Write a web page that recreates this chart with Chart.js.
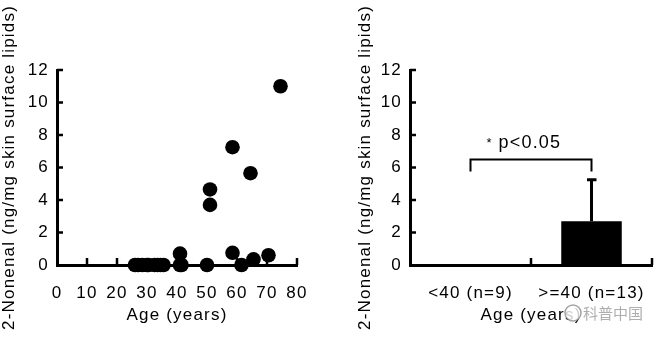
<!DOCTYPE html>
<html lang="en">
<head>
<meta charset="UTF-8" />
<title>2-Nonenal and age</title>
<script src="https://cdn.jsdelivr.net/npm/chart.js"></script>
<style>
  body { margin: 0; background: #fff; }
  .panel { position: absolute; top: 0; width: 330px; height: 338px; }
  #left { left: 0; }
  #right { left: 330px; }
</style>
</head>
<body>
<div class="panel" id="left"><canvas id="scatterChart" width="330" height="338"></canvas></div>
<div class="panel" id="right"><canvas id="barChart" width="330" height="338"></canvas></div>

<script>
  // individual subjects
  const ages    = [26, 27, 28.5, 30, 30.5, 32.5, 33.5, 34.5, 35.5, 41, 41, 41.5, 50, 51, 51, 58.5, 58.5, 61.5, 64.5, 65.5, 70.5, 74.5];
  const nonenal = [0, 0, 0, 0, 0, 0, 0, 0, 0, 0.7, 0, 0, 0, 4.65, 3.7, 7.25, 0.75, 0, 5.65, 0.35, 0.6, 11];

  // group summary
  const groupLabels = ['<40 (n=9)', '>=40 (n=13)'];
  const groupMeans  = [0, 2.7];
  const groupSD     = [0, 2.55];

  // significance bracket between the groups
  const bracketTop = 6.5;
  const bracketLeg = 5.75;
  const sigStar = '*';
  const sigText = 'p<0.05';

  const ageMin = 0, ageMax = 80, ageStep = 10;
  const yMin = 0, yMax = 12, yStep = 2;
  const xTitle = 'Age (years)';
  const yTitle = '2-Nonenal (ng/mg skin surface lipids)';
  const watermark = '科普中国';

  const FONT = 'Liberation Sans, Arial, sans-serif';
  const tickFont = { family: FONT, size: 17 };

  // loose tracking for every label drawn by the chart
  const tracking = {
    id: 'tracking',
    beforeDraw(chart) { chart.ctx.letterSpacing = '1.2px'; }
  };

  // tick marks pointing into the plot
  const inwardTicks = {
    id: 'inwardTicks',
    beforeDatasetsDraw(chart, args, opts) {
      const { ctx, chartArea, scales: { x, y } } = chart;
      ctx.save();
      ctx.strokeStyle = '#000';
      ctx.lineWidth = 2.5;
      ctx.beginPath();
      y.ticks.forEach(t => {
        if (t.value === yMin) return;
        const py = y.getPixelForValue(t.value);
        ctx.moveTo(chartArea.left, py);
        ctx.lineTo(chartArea.left + 6, py);
      });
      opts.xValues.forEach(v => {
        const px = x.getPixelForValue(v);
        ctx.moveTo(px, chartArea.bottom);
        ctx.lineTo(px, chartArea.bottom - 7);
      });
      ctx.stroke();
      ctx.restore();
    }
  };

  function yScale(titlePad, width) {
    return {
      min: yMin, max: yMax,
      ticks: { stepSize: yStep, padding: 8, font: tickFont, color: '#000' },
      grid: { display: false, drawTicks: false },
      border: { color: '#000', width: 3 },
      title: { display: true, text: yTitle, color: '#000', font: { family: FONT, size: 17, lineHeight: 1 }, padding: { top: titlePad, bottom: 0 } },
      afterFit(s) { s.width = width; }
    };
  }

  const xTitleOpts = { display: true, text: xTitle, color: '#000', font: { family: FONT, size: 17, lineHeight: 1.2 }, padding: { top: 0, bottom: 12 } };

  new Chart(document.getElementById('scatterChart'), {
    type: 'scatter',
    data: {
      datasets: [{
        data: ages.map((a, i) => ({ x: a, y: nonenal[i] })),
        backgroundColor: '#000',
        borderWidth: 0,
        pointRadius: 7.3,
        clip: false
      }]
    },
    plugins: [tracking, inwardTicks],
    options: {
      responsive: false,
      animation: false,
      layout: { padding: { top: 70, right: 33, left: 0, bottom: 0 } },
      plugins: {
        legend: { display: false },
        tooltip: { enabled: false },
        inwardTicks: { xValues: [10, 20, 30, 40, 50, 60, 70, 80] }
      },
      scales: {
        x: {
          type: 'linear', min: ageMin, max: ageMax,
          ticks: { stepSize: ageStep, padding: 18, font: tickFont, color: '#000', autoSkip: false, maxRotation: 0 },
          grid: { display: false, drawTicks: false },
          border: { color: '#000', width: 3 },
          title: xTitleOpts,
          afterFit(s) { s.height = 73; }
        },
        y: yScale(0.5, 57)
      }
    }
  });

  // error bar, bracket and the small logo text
  const barExtras = {
    id: 'barExtras',
    afterDatasetsDraw(chart) {
      const { ctx, scales: { x, y } } = chart;
      const bars = chart.getDatasetMeta(0).data;
      ctx.save();
      ctx.strokeStyle = '#000';
      ctx.lineWidth = 3;
      bars.forEach((bar, i) => {
        if (!groupSD[i]) return;
        const top = y.getPixelForValue(groupMeans[i] + groupSD[i]);
        ctx.beginPath();
        ctx.moveTo(bar.x, y.getPixelForValue(groupMeans[i]));
        ctx.lineTo(bar.x, top);
        ctx.moveTo(bar.x - 4.5, top);
        ctx.lineTo(bar.x + 5, top);
        ctx.stroke();
      });

      const bl = x.getPixelForValue(0), br = x.getPixelForValue(1);
      const bt = y.getPixelForValue(bracketTop), bb = y.getPixelForValue(bracketLeg);
      ctx.lineWidth = 2;
      ctx.beginPath();
      ctx.moveTo(bl, bb);
      ctx.lineTo(bl, bt);
      ctx.lineTo(br, bt);
      ctx.lineTo(br, bb);
      ctx.stroke();

      ctx.fillStyle = '#000';
      ctx.textBaseline = 'alphabetic';
      ctx.textAlign = 'left';
      ctx.font = '13px ' + FONT;
      ctx.fillText(sigStar, bl + 16, bt - 12);
      ctx.font = '18px ' + FONT;
      ctx.fillText(sigText, bl + 28, bt - 11);

      // logo in the lower right corner
      ctx.letterSpacing = '0px';
      ctx.globalAlpha = 0.8;
      ctx.fillStyle = '#fff';
      ctx.strokeStyle = '#8c8c8c';
      ctx.lineWidth = 1.5;
      ctx.beginPath();
      ctx.arc(243, 313, 8, 0, Math.PI * 2);
      ctx.fill();
      ctx.stroke();
      ctx.font = '15px "Noto Sans CJK SC"';
      ctx.textBaseline = 'middle';
      ctx.fillStyle = '#9a9a9a';
      ctx.fillText(watermark, 253, 313);
      ctx.restore();
    }
  };

  new Chart(document.getElementById('barChart'), {
    type: 'bar',
    data: {
      labels: groupLabels,
      datasets: [{
        data: groupMeans,
        backgroundColor: '#000',
        categoryPercentage: 1,
        barPercentage: 0.5
      }]
    },
    plugins: [tracking, inwardTicks, barExtras],
    options: {
      responsive: false,
      animation: false,
      layout: { padding: { top: 70, right: 8, left: 0, bottom: 0 } },
      plugins: {
        legend: { display: false },
        tooltip: { enabled: false },
        inwardTicks: { xValues: [0.5, 1.5] }
      },
      scales: {
        x: {
          ticks: { padding: 18, font: tickFont, color: '#000', maxRotation: 0 },
          grid: { display: false, drawTicks: false },
          border: { color: '#000', width: 3 },
          title: xTitleOpts,
          afterFit(s) { s.height = 73; }
        },
        y: yScale(26.5, 80)
      }
    }
  });
</script>
</body>
</html>
